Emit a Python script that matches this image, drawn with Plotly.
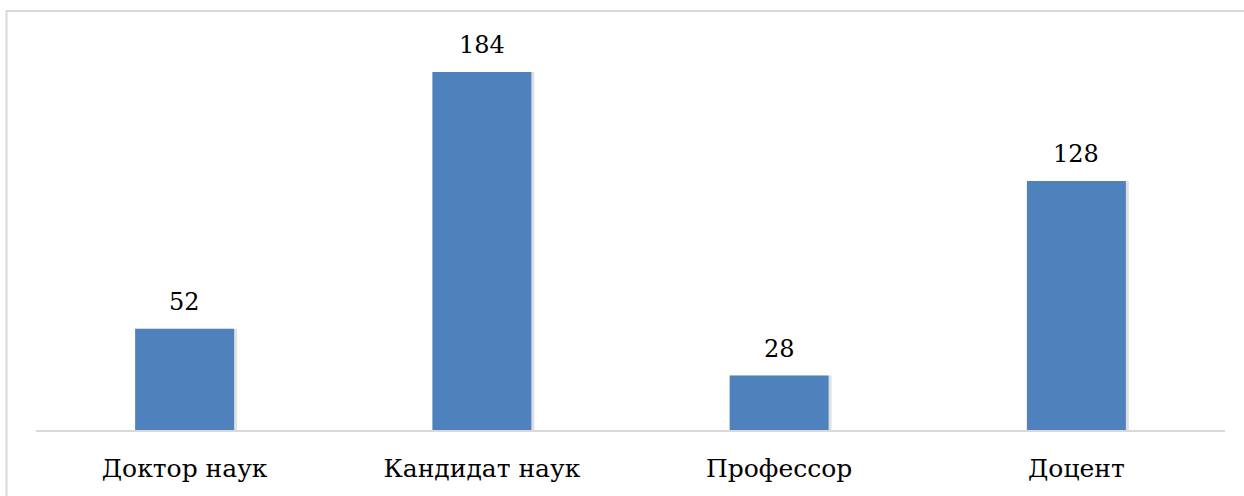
import plotly.graph_objects as go

# Academic degrees and titles
categories = ["Доктор наук", "Кандидат наук", "Профессор", "Доцент"]
counts = [52, 184, 28, 128]

BAR_COLOR = "#4F81BD"
FONT = "DejaVu Serif"
BAR_WIDTH = 0.333

fig = go.Figure()

# soft drop shadow behind each bar
fig.add_trace(go.Bar(
    x=categories, y=counts,
    width=BAR_WIDTH + 0.008, offset=-BAR_WIDTH / 2 + 0.002,
    marker=dict(color="rgba(0,0,0,0.12)", line=dict(width=0)),
    hoverinfo="skip", showlegend=False,
))

fig.add_trace(go.Bar(
    x=categories, y=counts,
    width=BAR_WIDTH, offset=-BAR_WIDTH / 2,
    marker=dict(color=BAR_COLOR, line=dict(width=0)),
    showlegend=False,
))

# value labels above the bars
for cat, val in zip(categories, counts):
    fig.add_annotation(
        x=cat, y=val, text=str(val), showarrow=False,
        yanchor="bottom", yshift=11,
        font=dict(family=FONT, size=24, color="#000000"),
    )

# light frame around the chart area
fig.add_shape(
    type="rect", xref="paper", yref="paper",
    x0=-0.0248, x1=1.05, y0=-0.3, y1=1.077,
    line=dict(color="#D9D9D9", width=2), fillcolor="rgba(0,0,0,0)",
    layer="below",
)

fig.update_layout(
    width=1244, height=496,
    margin=dict(l=36, r=19, t=41, b=66),
    paper_bgcolor="white", plot_bgcolor="white",
    barmode="overlay",
    font=dict(family=FONT, size=25, color="#000000"),
    xaxis=dict(
        showline=True, linecolor="#D9D9D9", linewidth=2,
        showgrid=False, ticks="", ticklabelstandoff=15,
        tickfont=dict(family=FONT, size=25, color="#000000"),
    ),
    yaxis=dict(
        range=[0, 200], visible=False, showgrid=False, zeroline=False,
    ),
)

fig.write_html("out.html")
